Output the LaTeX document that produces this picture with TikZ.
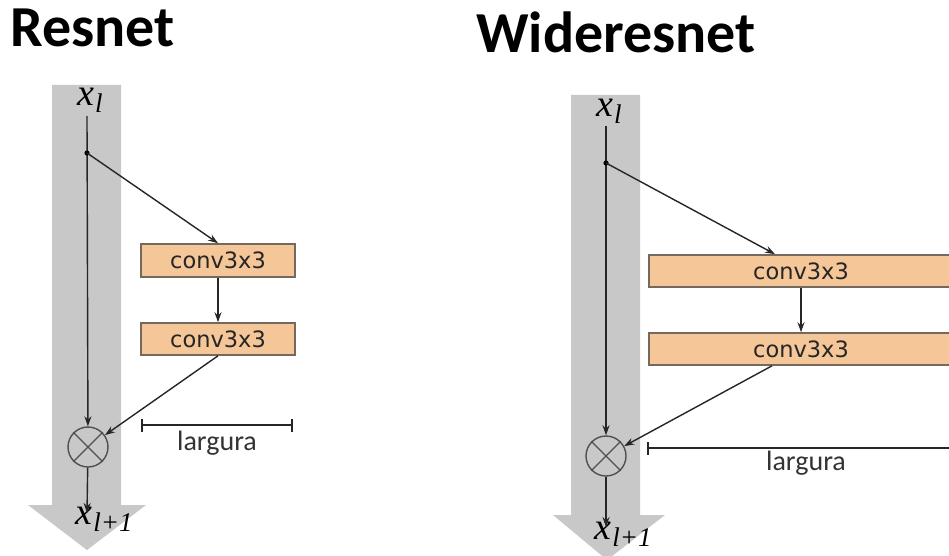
\documentclass[tikz,border=0pt]{standalone}
\usepackage{fontspec}
\setmainfont{Liberation Serif}
\newfontfamily\titlefont{Carlito}
\newfontfamily\labelfont{Carlito}
\newfontfamily\boxfont{DejaVu Sans}
\usetikzlibrary{arrows.meta}

% italic x with a lowered italic subscript
\newcommand{\xvar}[1]{{\fontsize{38}{38}\selectfont\itshape x\kern1pt\lower7pt\hbox{\fontsize{27}{27}\selectfont\itshape #1}}}

\definecolor{shaft}{RGB}{200,200,200}
\definecolor{convfill}{RGB}{244,198,152}
\definecolor{convline}{RGB}{115,105,95}
\definecolor{sumline}{RGB}{80,80,80}

\begin{document}
\begin{tikzpicture}[x=1pt,y=-1pt,
  title/.style={font=\titlefont\bfseries\fontsize{58}{58}\selectfont, anchor=base west, inner sep=0pt},
  conv/.style={draw=convline, line width=1.6pt, fill=convfill, inner sep=0pt,
    font=\boxfont\fontsize{22.5}{22.5}\selectfont, text=black!85},
  sum/.style={draw=sumline, circle, line width=1.4pt, minimum size=40pt, inner sep=0pt},
  link/.style={line width=1.4pt, draw=black!85, -{Stealth[length=10pt,width=7pt]}},
  widthbar/.style={line width=1.8pt, draw=black!85, {Bar[width=13pt]}-{Bar[width=13pt]}},
  widthtxt/.style={font=\labelfont\fontsize{28}{28}\selectfont, text=black!80},
  var/.style={inner sep=0pt}]

\clip (0,0) rectangle (949,556);
\fill[white] (0,0) rectangle (949,556);

% ---------------- Resnet ----------------
\node[title] (t1) at (10,47) {Resnet};
\fill[shaft] (52,85) -- (121,85) -- (121,505) -- (146,505) -- (87,550) -- (28,505) -- (52,505) -- cycle;

\node[var] (xa) at (90,100) {\xvar{l}};
\coordinate (sa) at (87,116);
\coordinate (da) at (87,153);
\node[conv, minimum width=154pt, minimum height=33pt] (a1) at (218,260.5) {conv3x3};
\node[conv, minimum width=154pt, minimum height=32pt] (a2) at (218,339) {conv3x3};
\node[sum] (ca) at (88,447) {};
\draw[sumline, line width=1.2pt] (ca.north west) -- (ca.south east) (ca.north east) -- (ca.south west);
\node[var] (ya) at (104,519) {\xvar{l+1}};
\coordinate (ea) at (87,513);

\draw[link] (sa) -- (ca);
\fill (da) circle (2.6pt);
\draw[link] (da) -- (a1.north);
\draw[link] (a1) -- (a2);
\draw[link] (a2.south) -- (ca);
\draw[link] (ca) -- (ea);

\coordinate (wa1) at (141,425);
\coordinate (wa2) at (293,425);
\draw[widthbar] (wa1) -- (wa2);
\node[widthtxt] (la) at (217,443) {largura};

% ---------------- Wideresnet ----------------
\node[title] (t2) at (476,53) {Wideresnet};
\fill[shaft] (571,95) -- (640,95) -- (640,515) -- (665,515) -- (607,560) -- (553,515) -- (571,515) -- cycle;

\node[var] (xb) at (609,111) {\xvar{l}};
\coordinate (sb) at (606,126);
\coordinate (db) at (606,163);
\node[conv, minimum width=304pt, minimum height=32pt] (b1) at (801,271) {conv3x3};
\node[conv, minimum width=304pt, minimum height=32pt] (b2) at (801,349) {conv3x3};
\node[sum] (cb) at (606,456) {};
\draw[sumline, line width=1.2pt] (cb.north west) -- (cb.south east) (cb.north east) -- (cb.south west);
\node[var] (yb) at (623,534) {\xvar{l+1}};
\coordinate (eb) at (606,527);

\draw[link] (sb) -- (cb);
\fill (db) circle (2.6pt);
\draw[link] (db) -- (b1.north -| 775,0);
\draw[link] (b1) -- (b2);
\draw[link] (b2.south -| 772,0) -- (cb);
\draw[link] (cb) -- (eb);

\coordinate (wb1) at (647,448);
\coordinate (wb2) at (960,448);
\draw[widthbar] (wb1) -- (wb2);
\node[widthtxt] (lb) at (806,463) {largura};
\end{tikzpicture}
\end{document}
